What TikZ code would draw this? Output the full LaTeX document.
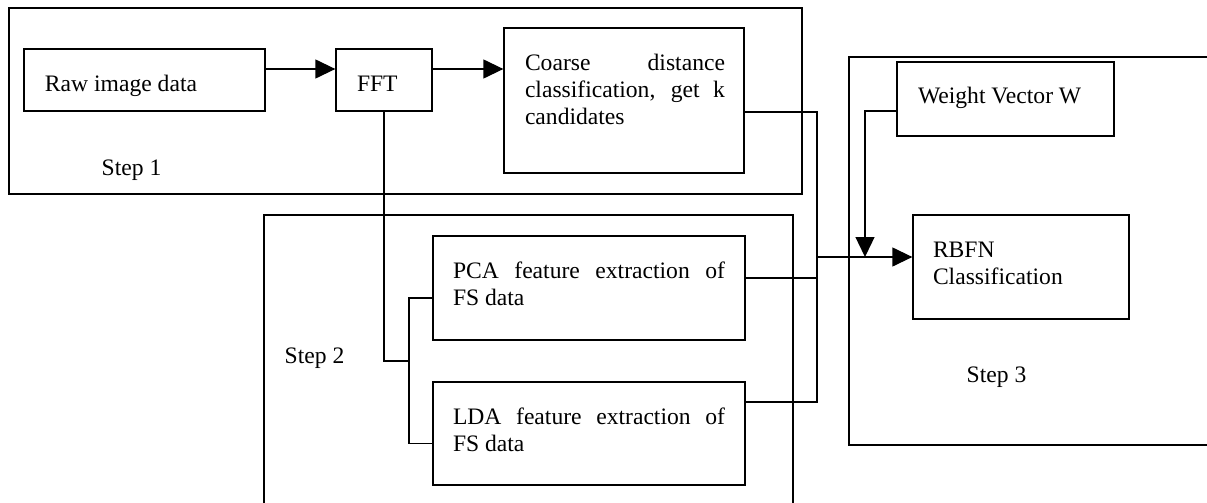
\documentclass[tikz,border=0pt]{standalone}
\usepackage{fontspec}
\setmainfont{Liberation Serif}
\usetikzlibrary{arrows.meta,calc}

\begin{document}
\begin{tikzpicture}[x=0.5pt,y=-0.5pt,
  line width=0.65pt,
  every node/.style={font=\fontsize{11.8pt}{13.5pt}\selectfont},
  frame/.style={draw, rectangle, inner sep=0pt},
  stepbox/.style={draw, rectangle, inner sep=0pt},
  txt/.style={inner sep=0pt, anchor=base west, align=justify},
  arr/.style={-{Triangle[length=10pt,width=9.5pt]}}]

\path[use as bounding box] (0,0) rectangle (1207,503);
\clip (0,0) rectangle (1207,503);

% stage frames
\node[stepbox, minimum width=396.5pt, minimum height=93pt]   (s1) at (405.5,101) {};
\node[stepbox, minimum width=264.5pt, minimum height=157.5pt] (s2) at (528.5,372.5) {};
\node[stepbox, minimum width=190.5pt, minimum height=194pt]  (s3) at (1039.5,251) {};

\node[txt] (s1lab) at (101,175) {Step 1};
\node[txt] (s2lab) at (284,363) {Step 2};
\node[txt] (s3lab) at (966,382) {Step 3};

% processing blocks
\node[frame, minimum width=120.5pt, minimum height=31pt]  (raw)    at (144.5,80)   {};
\node[frame, minimum width=48pt,    minimum height=31pt]  (fft)    at (384,80)     {};
\node[frame, minimum width=120pt,   minimum height=72.5pt] (coarse) at (624,100.5) {};
\node[frame, minimum width=156pt,   minimum height=52pt]  (pca)    at (589,288)    {};
\node[frame, minimum width=156pt,   minimum height=51.5pt] (lda)   at (589,433.5)  {};
\node[frame, minimum width=108.5pt, minimum height=37pt]  (weight) at (1005.5,99)  {};
\node[frame, minimum width=108pt,   minimum height=52pt]  (rbfn)   at (1021,267)   {};

% block texts
\node[txt] (rawt) at ([xshift=10.5pt,yshift=-21.5pt]raw.north west) {Raw image data};
\node[txt] (fftt) at ([xshift=10.5pt,yshift=-21.5pt]fft.north west) {FFT};
\node[txt, text width=100pt] (coarset) at ([xshift=10.5pt,yshift=-21.5pt]coarse.north west)
  {Coarse distance\linebreak classification, get k\linebreak candidates};
\node[txt, text width=136pt] (pcat) at ([xshift=10pt,yshift=-21.5pt]pca.north west)
  {PCA feature extraction of\linebreak FS data};
\node[txt, text width=136pt] (ldat) at ([xshift=10pt,yshift=-21.5pt]lda.north west)
  {LDA feature extraction of\linebreak FS data};
\node[txt] (weightt) at ([xshift=10.5pt,yshift=-21pt]weight.north west) {Weight Vector W};
\node[txt, text width=88pt, align=left] (rbfnt) at ([xshift=10pt,yshift=-21.5pt]rbfn.north west)
  {RBFN\\Classification};

% junction points
\coordinate (fork)  at (409,361);
\coordinate (merge) at (817,257);
\coordinate (wjoin) at (865,257);

% step 1 flow
\draw[arr] ([yshift=5.5pt]raw.east) -- ([yshift=5.5pt]fft.west);
\draw[arr] ([yshift=5.5pt]fft.east) -- ([yshift=5.5pt]fft.east -| coarse.west);

% FFT output to the feature extractors
\draw (fft.south) |- (fork);
\draw ([yshift=-5pt]pca.west) -| (fork) |- ([yshift=-5pt]lda.west);

% results gathered towards the classifier
\draw ([yshift=-5.75pt]coarse.east) -| (merge);
\draw ([yshift=5pt]pca.east) -| (merge);
\draw ([yshift=15.75pt]lda.east) -| (merge);
\draw[arr] (merge) -- ([yshift=5pt]rbfn.west);
\draw[arr] ([yshift=-6pt]weight.west) -| (wjoin);

\end{tikzpicture}
\end{document}
